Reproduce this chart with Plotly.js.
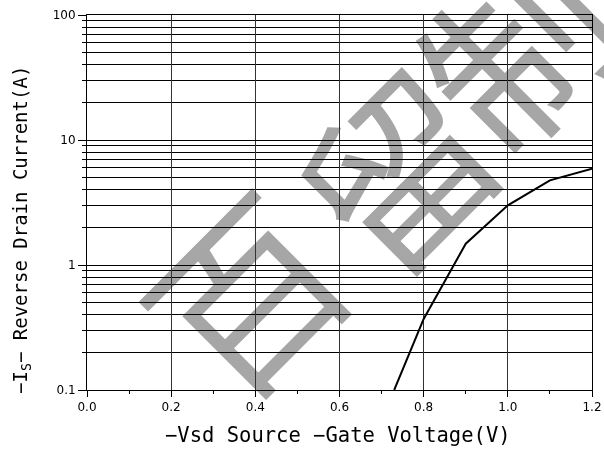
<!DOCTYPE html>
<html>
<head>
<meta charset="utf-8">
<script src="https://cdn.plot.ly/plotly-3.0.1.min.js"></script>
<style>html,body{margin:0;padding:0;background:#fff;}#chart{width:604px;height:450px;}</style>
</head>
<body>
<div id="chart"></div>
<script>
// Data
const vsd = [0.73, 0.8, 0.9, 1.0, 1.1, 1.2];          // -Vsd (V)
const isd = [0.1, 0.37, 1.48, 3.0, 4.75, 5.9];         // -Is (A)
const xTickVals = [0, 0.2, 0.4, 0.6, 0.8, 1.0, 1.2];
const yTickVals = [0.1, 1, 10, 100];
const yTickText = ['0.1', '1', '10', '100'];
const xTitle = '\u2212Vsd Source \u2212Gate Voltage(V)';
const yTitle = '\u2212I<sub>S</sub>\u2212 Reverse Drain Current(A)';
const watermarkChars = ['百', '留', '制'];

const L = 87, R = 12, T = 15, B = 60, W = 604, H = 450;
const pw = W - L - R, ph = H - T - B;
function px2paperX(px){ return (px - L) / pw; }
function px2paperY(py){ return (H - B - py) / ph; }

const wmPos = [[241, 291], [393, 167], [512, 44]];
const wmAnn = watermarkChars.map((c, i) => ({
  text: c, xref: 'paper', yref: 'paper',
  x: px2paperX(wmPos[i][0]), y: px2paperY(wmPos[i][1]),
  xanchor: 'center', yanchor: 'middle', showarrow: false,
  textangle: -45,
  font: {family: 'Noto Sans CJK SC', size: 184, weight: 400, color: '#a6a6a6'}
}));

const trace = {
  x: vsd, y: isd, type: 'scatter', mode: 'lines',
  line: {color: '#000', width: 2}, hoverinfo: 'skip'
};

const layout = {
  width: W, height: H,
  margin: {l: L, r: R, t: T, b: B},
  paper_bgcolor: '#fff', plot_bgcolor: '#fff',
  showlegend: false,
  xaxis: {
    range: [0, 1.2], tickvals: xTickVals, tickformat: '.1f',
    ticks: 'outside', ticklen: 6, tickwidth: 1, tickcolor: '#000',
    showgrid: true, gridcolor: '#333', gridwidth: 1,
    showline: true, linecolor: '#000', linewidth: 1, mirror: true,
    zeroline: false,
    minor: {dtick: 0.1, ticks: 'outside', ticklen: 3, tickcolor: '#000', showgrid: false},
    tickfont: {family: 'DejaVu Sans', size: 12, color: '#000'}
  },
  yaxis: {
    type: 'log', range: [-1, 2],
    tickvals: yTickVals, ticktext: yTickText,
    ticks: 'outside', ticklen: 8, tickwidth: 1, tickcolor: '#000',
    showgrid: true, gridcolor: '#000', gridwidth: 1,
    showline: true, linecolor: '#000', linewidth: 1, mirror: true,
    zeroline: false,
    minor: {dtick: 'D1', ticks: 'outside', ticklen: 4, tickcolor: '#000',
            showgrid: true, gridcolor: '#000', gridwidth: 1},
    tickfont: {family: 'DejaVu Sans', size: 12, color: '#000'}
  },
  annotations: wmAnn.concat([
    {text: xTitle, xref: 'paper', yref: 'paper',
     x: px2paperX(338), y: px2paperY(435), xanchor: 'center', yanchor: 'middle',
     showarrow: false, font: {family: 'DejaVu Sans Mono', size: 20.5, color: '#000'}},
    {text: yTitle, xref: 'paper', yref: 'paper',
     x: px2paperX(22), y: px2paperY(230), xanchor: 'center', yanchor: 'middle',
     textangle: -90, showarrow: false,
     font: {family: 'DejaVu Sans Mono', size: 19, color: '#000'}}
  ])
};

Plotly.newPlot('chart', [trace], layout, {staticPlot: true, displayModeBar: false}).then(gd => {
  // let the grid show through the watermark, as in the reference
  const info = gd.querySelector('.infolayer');
  if (info && info.ownerSVGElement) info.ownerSVGElement.style.mixBlendMode = 'darken';
});
</script>
</body>
</html>
